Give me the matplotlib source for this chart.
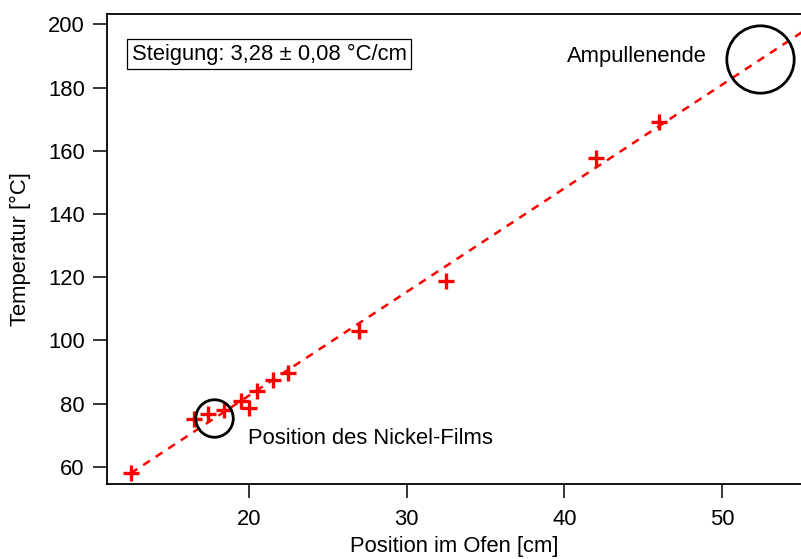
import numpy as np
import matplotlib
matplotlib.use("Agg")
import matplotlib.pyplot as plt

# Data
position_cm = [12.5, 16.5, 17.4, 18.4, 19.5, 20.0, 20.5, 21.5, 22.5, 27.0, 32.5, 42.0, 46.0]
temperature_c = [58.0, 75.1, 76.7, 78.1, 80.8, 78.7, 84.0, 87.6, 89.8, 103.0, 118.8, 157.8, 169.1]

nickel_pos = [17.8]
nickel_temp = [75.3]
ampulle_pos = [52.4]
ampulle_temp = [188.9]

x_ticks = [20, 30, 40, 50]
y_ticks = [60, 80, 100, 120, 140, 160, 180, 200]

slope_label = "Steigung: 3,28 ± 0,08 °C/cm"

plt.rcParams['font.family'] = ['Liberation Sans', 'DejaVu Sans']
FS = 15.8

W, H = 801, 559
fig = plt.figure(figsize=(W / 100, H / 100), dpi=100)
left, right, bottom, top = 107, 801, 483.5, 14.3
ax = fig.add_axes([left / W, (H - bottom) / H, (right - left) / W, (bottom - top) / H])

xmin, xmax = 11, 55
ax.set_xlim(xmin, xmax)
ax.set_ylim(54.7, 203.2)

x = np.array(position_cm)
y = np.array(temperature_c)
p = np.polyfit(x, y, 1)
xf = np.linspace(x.min(), xmax + 1, 50)
ax.plot(xf, np.polyval(p, xf), color='#ff0000', lw=1.8, ls=(0, (3.2, 2.8)), zorder=2)

ax.plot(x, y, ls='none', marker='+', ms=11.5, mew=2.4, color='#ff0000', zorder=3)

ax.plot(nickel_pos, nickel_temp, ls='none', marker='o', ms=27, mfc='none', mec='black', mew=2.0, zorder=4)
ax.plot(ampulle_pos, ampulle_temp, ls='none', marker='o', ms=48.5, mfc='none', mec='black', mew=2.0, zorder=4)

ax.text(19.95, 68.8, "Position des Nickel-Films", fontsize=FS, ha='left', va='center')
ax.text(49.0, 190.0, "Ampullenende", fontsize=FS, ha='right', va='center')

ax.text(131.5 / W, 1 - 54 / H, slope_label, transform=fig.transFigure, fontsize=FS,
        ha='left', va='center',
        bbox=dict(boxstyle='square,pad=0.2', fc='white', ec='black', lw=0.9))

ax.set_xticks(x_ticks)
ax.set_yticks(y_ticks)
ax.tick_params(direction='out', length=10, width=1.1, labelsize=FS, colors='black')
ax.tick_params(axis='x', pad=8.5)
ax.tick_params(axis='y', pad=6)
for s in ['left', 'bottom', 'top']:
    ax.spines[s].set_linewidth(1.3)
ax.spines['right'].set_visible(False)

ax.set_xlabel("Position im Ofen [cm]", fontsize=FS, labelpad=4)
ax.set_ylabel("Temperatur [°C]", fontsize=FS, labelpad=12)

fig.savefig("out.png", dpi=100)
